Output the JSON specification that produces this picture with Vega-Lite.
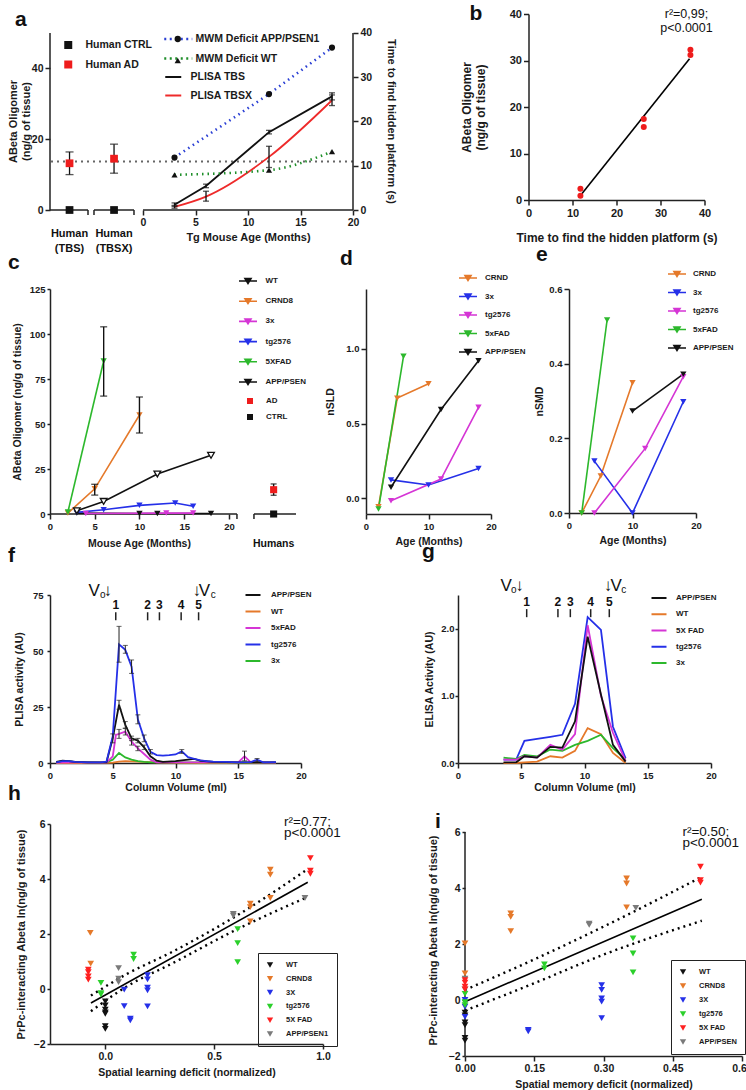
{
 "$schema": "https://vega.github.io/schema/vega-lite/v6.json",
 "background": "white",
 "padding": {"left": 7, "top": 2, "right": 0, "bottom": 0},
 "config": {
  "font": "Liberation Sans",
  "view": {"stroke": null},
  "axis": {"grid": false, "labelFont": "Liberation Sans", "labelFontWeight": "bold", "labelFontSize": 11, "labelColor": "#1a1a1a", "titleFont": "Liberation Sans", "titleFontWeight": "bold", "titleFontSize": 12, "titleColor": "#1a1a1a", "domainColor": "#222", "domainWidth": 1.5, "tickColor": "#222", "tickWidth": 1.5, "tickSize": 5, "labelFlush": false, "labelOverlap": false},
  "legend": {"labelFont": "Liberation Sans", "labelFontWeight": "bold", "labelColor": "#1a1a1a", "padding": 0, "titlePadding": 0},
  "title": {"font": "Liberation Sans", "fontSize": 21, "fontWeight": "bold", "anchor": "start", "frame": "group", "color": "#111"},
  "text": {"font": "Liberation Sans", "color": "#111"}
 },
 "resolve": {"scale": {"color": "independent", "fill": "independent", "stroke": "independent", "shape": "independent"}, "legend": {"color": "independent", "fill": "independent", "stroke": "independent", "shape": "independent"}},
 "spacing": -10,
 "vconcat": [
  {
   "spacing": 62.5,
   "resolve": {"scale": {"color": "independent", "fill": "independent", "stroke": "independent", "shape": "independent"}, "legend": {"color": "independent", "fill": "independent", "stroke": "independent", "shape": "independent"}},
   "hconcat": [
    {
     "width": 303, "height": 196,
     "title": {"text": "a", "dx": -35, "offset": -15.5},
     "resolve": {"scale": {"y": "independent"}},
     "layer": [
      {
       "layer": [
        {"data": {"values": [{"y": 13.7}]},
         "mark": {"type": "rule", "strokeDash": [2, 4], "strokeWidth": 2, "color": "#666"},
         "encoding": {"y": {"field": "y", "type": "quantitative", "scale": {"domain": [0, 55.37], "nice": false}, "axis": {"values": [0, 10, 20, 30, 40, 50], "domain": false, "title": ["ABeta Oligomer", "(ng/g of tissue)"], "titleY": 107, "titlePadding": 0, "labelFontSize": 10.5, "titleFontSize": 11, "titleLineHeight": 13}}}},
        {"data": {"values": [{"v": 0}]},
         "mark": {"type": "rule", "color": "#222", "strokeWidth": 1.5},
         "encoding": {"x": {"datum": -8.86, "type": "quantitative", "scale": {"domain": [-8.86, 20], "nice": false, "zero": false}}, "y": {"datum": 0, "type": "quantitative"}, "y2": {"datum": 50}}},
        {"data": {"name": "a_axis"},
         "mark": {"type": "rule", "color": "#222", "strokeWidth": 1.5},
         "encoding": {"x": {"field": "s", "type": "quantitative", "scale": {"domain": [-8.86, 20], "nice": false, "zero": false}, "axis": {"values": [0, 5, 10, 15, 20], "domain": false, "title": "Tg Mouse Age (Months)", "titleX": 198, "labelFontSize": 10.5, "titleFontSize": 11, "titlePadding": 4}}, "x2": {"field": "e"}, "y": {"datum": 0, "type": "quantitative"}}},
        {"data": {"name": "a_tk"},
         "mark": {"type": "rule", "color": "#222", "strokeWidth": 1.5},
         "encoding": {"x": {"field": "x", "type": "quantitative", "scale": {"domain": [-8.86, 20], "nice": false, "zero": false}}, "y": {"datum": 0, "type": "quantitative"}, "y2": {"datum": -1.4}}},
        {"data": {"name": "a_lab"},
         "mark": {"type": "text", "fontSize": 11, "fontWeight": "bold", "baseline": "top", "dy": 17.5, "lineBreak": "\n", "lineHeight": 15},
         "encoding": {"x": {"field": "x", "type": "quantitative", "scale": {"domain": [-8.86, 20], "nice": false, "zero": false}}, "y": {"datum": 0, "type": "quantitative"}, "text": {"field": "t"}}},
        {"data": {"name": "a_plisa"},
         "transform": [{"filter": "datum.s == 'PLISA TBS'"}],
         "mark": {"type": "line", "strokeWidth": 1.8},
         "encoding": {"x": {"field": "x", "type": "quantitative", "scale": {"domain": [-8.86, 20], "nice": false, "zero": false}}, "y": {"field": "y", "type": "quantitative", "scale": {"domain": [0, 55.37], "nice": false}},
          "color": {"field": "s", "type": "nominal", "scale": {"domain": ["PLISA TBS", "PLISA TBSX"], "range": ["#111111", "#ee2a2a"]}, "legend": {"title": null, "orient": "none", "legendX": 118, "legendY": 57.75, "symbolType": "M-4,0H4", "symbolSize": 16, "symbolStrokeWidth": 2, "labelOffset": 12, "labelFontSize": 10.5, "rowPadding": 7.5}}}},
        {"data": {"name": "a_plisa"},
         "transform": [{"filter": "datum.s == 'PLISA TBSX'"}],
         "mark": {"type": "line", "strokeWidth": 1.8, "interpolate": "monotone"},
         "encoding": {"x": {"field": "x", "type": "quantitative", "scale": {"domain": [-8.86, 20], "nice": false, "zero": false}}, "y": {"field": "y", "type": "quantitative", "scale": {"domain": [0, 55.37], "nice": false}},
          "color": {"field": "s", "type": "nominal", "legend": null}}},
        {"data": {"name": "a_plisa"},
         "encoding": {"x": {"field": "x", "type": "quantitative", "scale": {"domain": [-8.86, 20], "nice": false, "zero": false}}},
         "layer": [
          {"mark": {"type": "rule", "color": "#111", "strokeWidth": 1.3}, "encoding": {"y": {"field": "lo", "type": "quantitative"}, "y2": {"field": "hi"}}},
          {"mark": {"type": "tick", "orient": "horizontal", "color": "#111", "size": 6, "thickness": 1.3}, "encoding": {"y": {"field": "lo", "type": "quantitative"}}},
          {"mark": {"type": "tick", "orient": "horizontal", "color": "#111", "size": 6, "thickness": 1.3}, "encoding": {"y": {"field": "hi", "type": "quantitative"}}}
         ]},
        {"data": {"name": "a_human"},
         "transform": [{"filter": "isValid(datum.lo)"}],
         "encoding": {"x": {"field": "x", "type": "quantitative", "scale": {"domain": [-8.86, 20], "nice": false, "zero": false}}},
         "layer": [
          {"mark": {"type": "rule", "color": "#111", "strokeWidth": 1.3}, "encoding": {"y": {"field": "lo", "type": "quantitative"}, "y2": {"field": "hi"}}},
          {"mark": {"type": "tick", "orient": "horizontal", "color": "#111", "size": 8, "thickness": 1.3}, "encoding": {"y": {"field": "lo", "type": "quantitative"}}},
          {"mark": {"type": "tick", "orient": "horizontal", "color": "#111", "size": 8, "thickness": 1.3}, "encoding": {"y": {"field": "hi", "type": "quantitative"}}}
         ]},
        {"data": {"name": "a_human"},
         "mark": {"type": "point", "shape": "square", "filled": true, "size": 60, "opacity": 1},
         "encoding": {"x": {"field": "x", "type": "quantitative", "scale": {"domain": [-8.86, 20], "nice": false, "zero": false}}, "y": {"field": "y", "type": "quantitative"},
          "fill": {"field": "g", "type": "nominal", "scale": {"domain": ["Human CTRL", "Human AD"], "range": ["#111111", "#ee1c1c"]}, "legend": {"title": null, "orient": "none", "legendX": 13, "legendY": 25.75, "symbolType": "square", "symbolSize": 64, "labelOffset": 12, "labelFontSize": 10.5, "rowPadding": 8.5}}}}
       ]
      },
      {
       "layer": [
        {"data": {"name": "a_mwm"},
         "transform": [{"filter": "datum.m == 'MWM Deficit APP/PSEN1'"}],
         "mark": {"type": "line", "strokeDash": [1.5, 4], "strokeWidth": 2.6},
         "encoding": {"x": {"field": "x", "type": "quantitative", "scale": {"domain": [-8.86, 20], "nice": false, "zero": false}},
          "y": {"field": "t", "type": "quantitative", "scale": {"domain": [0, 44.29], "nice": false}, "axis": {"orient": "right", "values": [0, 10, 20, 30, 40], "domain": false, "title": "Time to find hidden platform (s)", "titleY": 107, "labelFontSize": 10.5, "titleFontSize": 11, "titlePadding": 14}},
          "stroke": {"field": "m", "type": "nominal", "scale": {"domain": ["MWM Deficit APP/PSEN1", "MWM Deficit WT"], "range": ["#2a3fd4", "#1f8f2a"]}, "legend": {"title": null, "orient": "none", "legendX": 123, "legendY": 19.75, "symbolType": "M-4,0H4", "symbolSize": 49, "symbolStrokeWidth": 2.5, "symbolDash": [2, 3.5], "labelOffset": 12, "labelFontSize": 10.5, "rowPadding": 8.5}}}},
        {"data": {"values": [{"v": 0}]},
         "mark": {"type": "rule", "color": "#222", "strokeWidth": 1.5},
         "encoding": {"x": {"datum": 20, "type": "quantitative", "scale": {"domain": [-8.86, 20], "nice": false, "zero": false}}, "y": {"datum": 0, "type": "quantitative"}, "y2": {"datum": 40}}},
        {"data": {"name": "a_mwm"},
         "transform": [{"filter": "datum.m == 'MWM Deficit WT'"}],
         "mark": {"type": "line", "strokeDash": [1.5, 4], "strokeWidth": 2.6, "interpolate": "monotone"},
         "encoding": {"x": {"field": "x", "type": "quantitative", "scale": {"domain": [-8.86, 20], "nice": false, "zero": false}},
          "y": {"field": "t", "type": "quantitative"},
          "stroke": {"field": "m", "type": "nominal", "legend": null}}},
        {"data": {"name": "a_mwm"},
         "mark": {"type": "point", "filled": true, "color": "#111", "size": 38, "opacity": 1},
         "encoding": {"x": {"field": "x", "type": "quantitative", "scale": {"domain": [-8.86, 20], "nice": false, "zero": false}},
          "y": {"field": "t", "type": "quantitative"},
          "shape": {"field": "m", "type": "nominal", "scale": {"range": ["circle", "triangle-up"]}, "legend": {"title": null, "orient": "none", "legendX": 122.5, "legendY": 19.75, "symbolSize": 40, "labelOpacity": 0, "labelFontSize": 10.5, "rowPadding": 8.5}}}}
       ]
      }
     ]
    },
    {
     "width": 176, "height": 186,
     "title": {"text": "b", "dx": -59, "offset": -15.5},
     "layer": [
      {"data": {"name": "b_fit"}, "mark": {"type": "line", "color": "#000", "strokeWidth": 1.6},
       "encoding": {"x": {"field": "x", "type": "quantitative", "scale": {"domain": [0, 40], "nice": false}, "axis": {"values": [0, 10, 20, 30, 40], "title": "Time to find the hidden platform (s)", "titlePadding": 14, "labelFontSize": 11, "titleFontSize": 12}},
        "y": {"field": "y", "type": "quantitative", "scale": {"domain": [0, 40], "nice": false}, "axis": {"values": [0, 10, 20, 30, 40], "title": ["ABeta Oligomer", "(ng/g of tissue)"], "titlePadding": 22, "labelFontSize": 11, "titleFontSize": 12, "titleLineHeight": 14}}}},
      {"data": {"name": "b_pts"}, "mark": {"type": "point", "filled": true, "color": "#ee1c1c", "size": 36, "opacity": 1},
       "encoding": {"x": {"field": "x", "type": "quantitative", "scale": {"domain": [0, 40], "nice": false}}, "y": {"field": "y", "type": "quantitative", "scale": {"domain": [0, 40], "nice": false}}}},
      {"data": {"name": "b_txt"}, "mark": {"type": "text", "fontSize": 12.5, "align": "center", "baseline": "middle"},
       "encoding": {"x": {"field": "x", "type": "quantitative", "scale": {"domain": [0, 40], "nice": false}}, "y": {"field": "y", "type": "quantitative", "scale": {"domain": [0, 40], "nice": false}}, "text": {"field": "t"}}}
     ]
    }
   ]
  },
  {
   "spacing": 19,
   "resolve": {"scale": {"color": "independent", "fill": "independent", "stroke": "independent", "shape": "independent"}, "legend": {"color": "independent", "fill": "independent", "stroke": "independent", "shape": "independent"}},
   "hconcat": [
    {
     "width": 246, "height": 225,
     "title": {"text": "c", "dx": -42, "offset": 4.5},
     "layer": [
      {"data": {"name": "c_axis"}, "mark": {"type": "rule", "color": "#222", "strokeWidth": 1.5},
       "encoding": {"x": {"field": "s", "type": "quantitative", "scale": {"domain": [0, 27.5], "nice": false, "zero": false}}, "x2": {"field": "e"}, "y": {"datum": 0, "type": "quantitative", "scale": {"domain": [0, 125], "nice": false}}}},
      {"data": {"name": "c_tk"}, "mark": {"type": "rule", "color": "#222", "strokeWidth": 1.5},
       "encoding": {"x": {"field": "x", "type": "quantitative", "scale": {"domain": [0, 27.5], "nice": false, "zero": false}}, "y": {"datum": 0, "type": "quantitative"}, "y2": {"datum": -2.8}}},
      {"data": {"name": "c_lab"}, "mark": {"type": "text", "fontSize": 10.5, "fontWeight": "bold", "baseline": "middle", "dy": 30},
       "encoding": {"x": {"field": "x", "type": "quantitative", "scale": {"domain": [0, 27.5], "nice": false, "zero": false}}, "y": {"datum": 0, "type": "quantitative"}, "text": {"field": "t"}}},
      {"data": {"name": "c_lines"}, "mark": {"type": "line", "strokeWidth": 1.6},
       "encoding": {"x": {"field": "x", "type": "quantitative", "scale": {"domain": [0, 27.5], "nice": false, "zero": false}, "axis": {"values": [0, 5, 10, 15, 20], "domain": false, "title": "Mouse Age (Months)", "titleX": 89, "titlePadding": 8, "labelFontSize": 9.5, "titleFontSize": 10.5}},
        "y": {"field": "y", "type": "quantitative", "scale": {"domain": [0, 125], "nice": false}, "axis": {"values": [0, 25, 50, 75, 100, 125], "title": "ABeta Oligomer (ng/g of tissue)", "tickSize": 3, "labelPadding": 2, "titlePadding": 7, "labelFontSize": 9.5, "titleFontSize": 10.5}},
        "color": {"field": "s", "type": "nominal", "scale": {"domain": ["WT", "CRND8", "3x", "tg2576", "5XFAD", "APP/PSEN"], "range": ["#111111", "#e5792a", "#d535d5", "#2530e8", "#2cb82c", "#111111"]},
         "legend": {"title": null, "orient": "none", "legendX": 194, "legendY": -12, "symbolType": "M-3,0H3M-1,-0.8H1L0,0.8Z", "symbolSize": 36, "symbolStrokeWidth": 1.6, "symbolFillColor": "transparent", "labelOffset": 13.5, "labelFontSize": 8, "rowPadding": 8.2}}}},
      {"data": {"name": "c_lines"}, "transform": [{"filter": "datum.s != 'APP/PSEN'"}], "mark": {"type": "point", "shape": "triangle-down", "filled": true, "size": 40, "opacity": 1},
       "encoding": {"x": {"field": "x", "type": "quantitative", "scale": {"domain": [0, 27.5], "nice": false, "zero": false}}, "y": {"field": "y", "type": "quantitative"}, "color": {"field": "s", "type": "nominal", "legend": null}}},
      {"data": {"name": "c_lines"}, "transform": [{"filter": "datum.s == 'APP/PSEN'"}], "mark": {"type": "point", "shape": "triangle-down", "filled": false, "fill": "white", "stroke": "#111", "strokeWidth": 1.3, "size": 45, "opacity": 1},
       "encoding": {"x": {"field": "x", "type": "quantitative", "scale": {"domain": [0, 27.5], "nice": false, "zero": false}}, "y": {"field": "y", "type": "quantitative"}}},
      {"data": {"name": "c_err"},
       "encoding": {"x": {"field": "x", "type": "quantitative", "scale": {"domain": [0, 27.5], "nice": false, "zero": false}}},
       "layer": [
        {"mark": {"type": "rule", "color": "#111", "strokeWidth": 1.4}, "encoding": {"y": {"field": "lo", "type": "quantitative"}, "y2": {"field": "hi"}}},
        {"mark": {"type": "tick", "orient": "horizontal", "color": "#111", "size": 7, "thickness": 1.4}, "encoding": {"y": {"field": "lo", "type": "quantitative"}}},
        {"mark": {"type": "tick", "orient": "horizontal", "color": "#111", "size": 7, "thickness": 1.4}, "encoding": {"y": {"field": "hi", "type": "quantitative"}}}
       ]},
      {"data": {"name": "c_hum"}, "transform": [{"filter": "isValid(datum.lo)"}],
       "encoding": {"x": {"field": "x", "type": "quantitative", "scale": {"domain": [0, 27.5], "nice": false, "zero": false}}},
       "layer": [
        {"mark": {"type": "rule", "color": "#111", "strokeWidth": 1.4}, "encoding": {"y": {"field": "lo", "type": "quantitative"}, "y2": {"field": "hi"}}},
        {"mark": {"type": "tick", "orient": "horizontal", "color": "#111", "size": 6, "thickness": 1.4}, "encoding": {"y": {"field": "lo", "type": "quantitative"}}},
        {"mark": {"type": "tick", "orient": "horizontal", "color": "#111", "size": 6, "thickness": 1.4}, "encoding": {"y": {"field": "hi", "type": "quantitative"}}}
       ]},
      {"data": {"name": "c_hum"}, "mark": {"type": "point", "shape": "square", "filled": true, "size": 50, "opacity": 1},
       "encoding": {"x": {"field": "x", "type": "quantitative", "scale": {"domain": [0, 27.5], "nice": false, "zero": false}}, "y": {"field": "y", "type": "quantitative"},
        "fill": {"field": "g", "type": "nominal", "scale": {"domain": ["AD", "CTRL"], "range": ["#ee1c1c", "#111111"]}, "legend": {"title": null, "orient": "none", "legendX": 196, "legendY": 108, "symbolType": "square", "symbolSize": 36, "labelOffset": 12, "labelFontSize": 8, "rowPadding": 8}}}}
     ]
    },
    {
     "spacing": 8,
     "resolve": {"scale": {"color": "independent", "fill": "independent", "stroke": "independent", "shape": "independent"}, "legend": {"color": "independent", "fill": "independent", "stroke": "independent", "shape": "independent"}},
     "hconcat": [
      {
       "width": 125, "height": 225,
       "title": {"text": "d", "dx": -26, "offset": 5},
       "layer": [
        {"data": {"name": "d_lines"}, "mark": {"type": "line", "strokeWidth": 1.6},
         "encoding": {"x": {"field": "x", "type": "quantitative", "scale": {"domain": [0, 20], "nice": false}, "axis": {"values": [0, 5, 10, 15, 20], "title": "Age (Months)", "titlePadding": 6, "labelFontSize": 9.5, "titleFontSize": 10.5}},
          "y": {"field": "y", "type": "quantitative", "scale": {"domain": [-0.105, 1.4], "nice": false, "zero": false}, "axis": {"values": [0, 0.5, 1.0], "format": ".1f", "title": "nSLD", "titlePadding": 10.5, "labelFontSize": 9.5, "titleFontSize": 10.5}},
          "color": {"field": "s", "type": "nominal", "scale": {"domain": ["CRND", "3x", "tg2576", "5xFAD", "APP/PSEN"], "range": ["#e5792a", "#2530e8", "#d535d5", "#2cb82c", "#111111"]},
           "legend": {"title": null, "orient": "none", "legendX": 98, "legendY": -15, "symbolType": "M-3,0H3M-1,-0.8H1L0,0.8Z", "symbolSize": 36, "symbolStrokeWidth": 1.6, "symbolFillColor": "transparent", "labelOffset": 13, "labelFontSize": 8, "rowPadding": 6.5}}}},
        {"data": {"name": "d_lines"}, "mark": {"type": "point", "shape": "triangle-down", "filled": true, "size": 40, "opacity": 1},
         "encoding": {"x": {"field": "x", "type": "quantitative", "scale": {"domain": [0, 20], "nice": false}}, "y": {"field": "y", "type": "quantitative"}, "color": {"field": "s", "type": "nominal", "legend": null}}}
       ]
      },
      {
       "width": 127, "height": 224,
       "title": {"text": "e", "dx": -33, "offset": 5},
       "layer": [
        {"data": {"name": "e_lines"}, "mark": {"type": "line", "strokeWidth": 1.6},
         "encoding": {"x": {"field": "x", "type": "quantitative", "scale": {"domain": [0, 20], "nice": false}, "axis": {"values": [0, 5, 10, 15, 20], "title": "Age (Months)", "titlePadding": 6, "labelFontSize": 9.5, "titleFontSize": 10.5}},
          "y": {"field": "y", "type": "quantitative", "scale": {"domain": [0, 0.6], "nice": false}, "axis": {"values": [0, 0.2, 0.4, 0.6], "format": ".1f", "title": "nSMD", "titlePadding": 4.5, "labelFontSize": 9.5, "titleFontSize": 10.5}},
          "color": {"field": "s", "type": "nominal", "scale": {"domain": ["CRND", "3x", "tg2576", "5xFAD", "APP/PSEN"], "range": ["#e5792a", "#2530e8", "#d535d5", "#2cb82c", "#111111"]},
           "legend": {"title": null, "orient": "none", "legendX": 104, "legendY": -19, "symbolType": "M-3,0H3M-1,-0.8H1L0,0.8Z", "symbolSize": 36, "symbolStrokeWidth": 1.6, "symbolFillColor": "transparent", "labelOffset": 12, "labelFontSize": 8, "rowPadding": 6.5}}}},
        {"data": {"name": "e_lines"}, "mark": {"type": "point", "shape": "triangle-down", "filled": true, "size": 40, "opacity": 1},
         "encoding": {"x": {"field": "x", "type": "quantitative", "scale": {"domain": [0, 20], "nice": false}}, "y": {"field": "y", "type": "quantitative"}, "color": {"field": "s", "type": "nominal", "legend": null}}}
       ]
      }
     ]
    }
   ]
  },
  {
   "spacing": 110,
   "resolve": {"scale": {"color": "independent", "fill": "independent", "stroke": "independent", "shape": "independent"}, "legend": {"color": "independent", "fill": "independent", "stroke": "independent", "shape": "independent"}},
   "hconcat": [
    {
     "width": 251, "height": 168,
     "title": {"text": "f", "dx": -42, "offset": 16.5},
     "layer": [
      {"data": {"name": "f_lines"}, "mark": {"type": "line", "strokeWidth": 1.8},
       "encoding": {"x": {"field": "x", "type": "quantitative", "scale": {"domain": [0, 20], "nice": false}, "axis": {"values": [0, 5, 10, 15, 20], "title": "Column Volume (ml)", "labelFontSize": 9.5, "titleFontSize": 10.5, "titlePadding": 3}},
        "y": {"field": "y", "type": "quantitative", "scale": {"domain": [0, 75], "nice": false}, "axis": {"values": [0, 25, 50, 75], "title": "PLISA activity (AU)", "tickSize": 3, "labelPadding": 4, "labelFontSize": 9.5, "titleFontSize": 10.5, "titlePadding": 8}},
        "color": {"field": "s", "type": "nominal", "scale": {"domain": ["APP/PSEN", "WT", "5xFAD", "tg2576", "3x"], "range": ["#111111", "#e5792a", "#d535d5", "#2530e8", "#2cb82c"]},
         "legend": {"title": null, "orient": "none", "legendX": 199, "legendY": -4, "symbolType": "M-3,0H3", "symbolSize": 25, "symbolStrokeWidth": 2, "labelOffset": 14, "labelFontSize": 8, "rowPadding": 8.5}}}},
      {"data": {"name": "f_err"},
       "encoding": {"x": {"field": "x", "type": "quantitative", "scale": {"domain": [0, 20], "nice": false}}},
       "layer": [
        {"mark": {"type": "rule", "color": "#222", "strokeWidth": 1}, "encoding": {"y": {"field": "lo", "type": "quantitative"}, "y2": {"field": "hi"}}},
        {"mark": {"type": "tick", "orient": "horizontal", "color": "#222", "size": 5, "thickness": 1}, "encoding": {"y": {"field": "lo", "type": "quantitative"}}},
        {"mark": {"type": "tick", "orient": "horizontal", "color": "#222", "size": 5, "thickness": 1}, "encoding": {"y": {"field": "hi", "type": "quantitative"}}}
       ]},
      {"data": {"name": "f_big"}, "mark": {"type": "text", "fontSize": 17, "baseline": "middle"},
       "encoding": {"x": {"field": "x", "type": "quantitative", "scale": {"domain": [0, 20], "nice": false}}, "y": {"datum": 76.6, "type": "quantitative"}, "text": {"field": "t"}}},
      {"data": {"name": "f_small"}, "mark": {"type": "text", "fontSize": 10, "baseline": "middle"},
       "encoding": {"x": {"field": "x", "type": "quantitative", "scale": {"domain": [0, 20], "nice": false}}, "y": {"datum": 75.0, "type": "quantitative"}, "text": {"field": "t"}}},
      {"data": {"name": "f_frac"}, "mark": {"type": "text", "fontSize": 12, "fontWeight": "bold", "baseline": "middle"},
       "encoding": {"x": {"field": "x", "type": "quantitative", "scale": {"domain": [0, 20], "nice": false}}, "y": {"datum": 70.6, "type": "quantitative"}, "text": {"field": "n"}}},
      {"data": {"name": "f_frac"}, "mark": {"type": "rule", "color": "#222", "strokeWidth": 1.5},
       "encoding": {"x": {"field": "x", "type": "quantitative", "scale": {"domain": [0, 20], "nice": false}}, "y": {"datum": 63.7, "type": "quantitative"}, "y2": {"datum": 67.3}}}
     ]
    },
    {
     "width": 253, "height": 168,
     "title": {"text": "g", "dx": -36, "offset": 15.5},
     "layer": [
      {"data": {"name": "g_lines"}, "mark": {"type": "line", "strokeWidth": 1.8},
       "encoding": {"x": {"field": "x", "type": "quantitative", "scale": {"domain": [0, 20], "nice": false}, "axis": {"values": [0, 5, 10, 15, 20], "title": "Column Volume (ml)", "labelFontSize": 9.5, "titleFontSize": 10.5, "titlePadding": 3}},
        "y": {"field": "y", "type": "quantitative", "scale": {"domain": [0, 2.5], "nice": false}, "axis": {"values": [0, 0.5, 1, 1.5, 2, 2.5], "format": ".1f", "title": "ELISA Activity (AU)", "tickSize": 3, "labelPadding": 1, "labelFontSize": 9.5, "titleFontSize": 10.5, "titlePadding": 6.5}},
        "color": {"field": "s", "type": "nominal", "scale": {"domain": ["APP/PSEN", "WT", "5X FAD", "tg2576", "3x"], "range": ["#111111", "#e5792a", "#d535d5", "#2530e8", "#2cb82c"]},
         "legend": {"title": null, "orient": "none", "legendX": 197, "legendY": -1, "symbolType": "M-3,0H3", "symbolSize": 25, "symbolStrokeWidth": 2, "labelOffset": 13, "labelFontSize": 8, "rowPadding": 8.25}}}},
      {"data": {"name": "g_big"}, "mark": {"type": "text", "fontSize": 17, "baseline": "middle"},
       "encoding": {"x": {"field": "x", "type": "quantitative", "scale": {"domain": [0, 20], "nice": false}}, "y": {"datum": 2.63, "type": "quantitative"}, "text": {"field": "t"}}},
      {"data": {"name": "g_small"}, "mark": {"type": "text", "fontSize": 10, "baseline": "middle"},
       "encoding": {"x": {"field": "x", "type": "quantitative", "scale": {"domain": [0, 20], "nice": false}}, "y": {"datum": 2.57, "type": "quantitative"}, "text": {"field": "t"}}},
      {"data": {"name": "g_frac"}, "mark": {"type": "text", "fontSize": 12, "fontWeight": "bold", "baseline": "middle"},
       "encoding": {"x": {"field": "x", "type": "quantitative", "scale": {"domain": [0, 20], "nice": false}}, "y": {"datum": 2.39, "type": "quantitative"}, "text": {"field": "n"}}},
      {"data": {"name": "g_frac"}, "mark": {"type": "rule", "color": "#222", "strokeWidth": 1.5},
       "encoding": {"x": {"field": "x", "type": "quantitative", "scale": {"domain": [0, 20], "nice": false}}, "y": {"datum": 2.17, "type": "quantitative"}, "y2": {"datum": 2.29}}}
     ]
    }
   ]
  },
  {
   "spacing": 86,
   "resolve": {"scale": {"color": "independent", "fill": "independent", "stroke": "independent", "shape": "independent"}, "legend": {"color": "independent", "fill": "independent", "stroke": "independent", "shape": "independent"}},
   "hconcat": [
    {
     "width": 273, "height": 220,
     "title": {"text": "h", "dx": -42, "offset": 10.5},
     "layer": [
      {"data": {"name": "h_lines"}, "transform": [{"filter": "datum.k == 'fit'"}], "mark": {"type": "line", "color": "#000", "strokeWidth": 1.6},
       "encoding": {"x": {"field": "x", "type": "quantitative", "scale": {"domain": [-0.254, 1.0], "nice": false, "zero": false}, "axis": {"values": [0, 0.5, 1.0], "format": ".1f", "title": "Spatial learning deficit (normalized)", "titlePadding": 6, "labelFontSize": 10.5, "titleFontSize": 10.5}},
        "y": {"field": "y", "type": "quantitative", "scale": {"domain": [-2, 6], "nice": false, "zero": false}, "axis": {"values": [-2, 0, 2, 4, 6], "title": "PrPc-interacting Abeta ln(ng/g of tissue)", "tickSize": 3, "labelPadding": 2, "titlePadding": 7, "labelFontSize": 10.5, "titleFontSize": 11}}}},
      {"data": {"name": "h_lines"}, "transform": [{"filter": "datum.k != 'fit'"}], "mark": {"type": "line", "color": "#000", "strokeWidth": 2.4, "strokeDash": [2, 4], "interpolate": "monotone"},
       "encoding": {"x": {"field": "x", "type": "quantitative", "scale": {"domain": [-0.254, 1.0], "nice": false, "zero": false}}, "y": {"field": "y", "type": "quantitative"}, "detail": {"field": "k"}}},
      {"data": {"name": "h_pts"}, "mark": {"type": "point", "shape": "triangle-down", "filled": true, "size": 45, "opacity": 1},
       "encoding": {"x": {"field": "x", "type": "quantitative", "scale": {"domain": [-0.254, 1.0], "nice": false, "zero": false}}, "y": {"field": "y", "type": "quantitative"},
        "color": {"field": "s", "type": "nominal", "scale": {"domain": ["WT", "CRND8", "3X", "tg2576", "5X FAD", "APP/PSEN1"], "range": ["#111111", "#e5792a", "#2530e8", "#2bd02b", "#ff2020", "#7a7a7a"]},
         "legend": {"title": null, "orient": "none", "legendX": 208, "legendY": 129, "symbolType": "triangle-down", "symbolSize": 40, "labelOffset": 12, "labelFontSize": 7.5, "rowPadding": 5.8, "strokeColor": "#222", "padding": 8}}}},
      {"data": {"name": "h_txt"}, "mark": {"type": "text", "fontSize": 13.5, "align": "left", "baseline": "middle"},
       "encoding": {"x": {"field": "x", "type": "quantitative", "scale": {"domain": [-0.254, 1.0], "nice": false, "zero": false}}, "y": {"field": "y", "type": "quantitative"}, "text": {"field": "t"}}}
     ]
    },
    {
     "width": 277, "height": 232,
     "title": {"text": "i", "dx": -30, "dy": 18, "offset": 10.5},
     "layer": [
      {"data": {"name": "i_lines"}, "transform": [{"filter": "datum.k == 'fit'"}], "mark": {"type": "line", "color": "#000", "strokeWidth": 1.6},
       "encoding": {"x": {"field": "x", "type": "quantitative", "scale": {"domain": [0, 0.6], "nice": false, "zero": false}, "axis": {"values": [0, 0.15, 0.3, 0.45, 0.6], "format": ".2f", "title": "Spatial memory deficit (normalized)", "titlePadding": 6, "labelFontSize": 10.5, "titleFontSize": 10.5}},
        "y": {"field": "y", "type": "quantitative", "scale": {"domain": [-2, 6.286], "nice": false, "zero": false}, "axis": {"values": [-2, 0, 2, 4, 6], "domain": false, "title": "PrPc-interacting Abeta ln(ng/g of tissue)", "tickSize": 3, "labelPadding": 2, "titlePadding": 10, "labelFontSize": 10.5, "titleFontSize": 11}}}},
      {"data": {"values": [{"v": 0}]},
       "mark": {"type": "rule", "color": "#222", "strokeWidth": 1.5},
       "encoding": {"x": {"datum": 0, "type": "quantitative", "scale": {"domain": [0, 0.6], "nice": false, "zero": false}}, "y": {"datum": -2, "type": "quantitative"}, "y2": {"datum": 6}}},
      {"data": {"name": "i_lines"}, "transform": [{"filter": "datum.k != 'fit'"}], "mark": {"type": "line", "color": "#000", "strokeWidth": 2.4, "strokeDash": [2, 4], "interpolate": "monotone"},
       "encoding": {"x": {"field": "x", "type": "quantitative", "scale": {"domain": [0, 0.6], "nice": false, "zero": false}}, "y": {"field": "y", "type": "quantitative"}, "detail": {"field": "k"}}},
      {"data": {"name": "i_pts"}, "mark": {"type": "point", "shape": "triangle-down", "filled": true, "size": 45, "opacity": 1},
       "encoding": {"x": {"field": "x", "type": "quantitative", "scale": {"domain": [0, 0.6], "nice": false, "zero": false}}, "y": {"field": "y", "type": "quantitative"},
        "color": {"field": "s", "type": "nominal", "scale": {"domain": ["WT", "CRND8", "3X", "tg2576", "5X FAD", "APP/PSEN"], "range": ["#111111", "#e5792a", "#2530e8", "#2bd02b", "#ff2020", "#7a7a7a"]},
         "legend": {"title": null, "orient": "none", "legendX": 206, "legendY": 136, "symbolType": "triangle-down", "symbolSize": 40, "labelOffset": 12, "labelFontSize": 7.5, "rowPadding": 6, "strokeColor": "#222", "padding": 8}}}},
      {"data": {"name": "i_txt"}, "mark": {"type": "text", "fontSize": 13.5, "align": "left", "baseline": "middle"},
       "encoding": {"x": {"field": "x", "type": "quantitative", "scale": {"domain": [0, 0.6], "nice": false, "zero": false}}, "y": {"field": "y", "type": "quantitative"}, "text": {"field": "t"}}}
     ]
    }
   ]
  }
 ],
 "datasets": {
  "a_axis": [{"s": -8.86, "e": -5.24}, {"s": -4.67, "e": -0.86}, {"s": 0, "e": 20}],
  "a_tk": [{"x": -5.24}, {"x": -4.67}, {"x": -0.86}],
  "a_lab": [{"x": -7.0, "t": "Human\n(TBS)"}, {"x": -2.76, "t": "Human\n(TBSX)"}],
  "a_plisa": [
   {"s": "PLISA TBS", "x": 3, "y": 1.5, "lo": 1.0, "hi": 2.0},
   {"s": "PLISA TBS", "x": 6, "y": 6.8, "lo": 6.3, "hi": 7.3},
   {"s": "PLISA TBS", "x": 12, "y": 22.0, "lo": 21.5, "hi": 22.5},
   {"s": "PLISA TBS", "x": 18, "y": 32.1, "lo": 31.1, "hi": 33.1},
   {"s": "PLISA TBSX", "x": 3, "y": 0.9, "lo": 0.5, "hi": 1.3},
   {"s": "PLISA TBSX", "x": 6, "y": 3.8, "lo": 2.5, "hi": 5.3},
   {"s": "PLISA TBSX", "x": 12, "y": 15.0, "lo": 12.0, "hi": 18.0},
   {"s": "PLISA TBSX", "x": 18, "y": 31.0, "lo": 29.5, "hi": 32.5}
  ],
  "a_human": [
   {"g": "Human CTRL", "x": -7.0, "y": 0},
   {"g": "Human CTRL", "x": -2.76, "y": 0},
   {"g": "Human AD", "x": -7.0, "y": 13.2, "lo": 10.0, "hi": 16.4},
   {"g": "Human AD", "x": -2.76, "y": 14.5, "lo": 10.4, "hi": 18.6}
  ],
  "a_mwm": [
   {"m": "MWM Deficit APP/PSEN1", "x": 3, "t": 11.85},
   {"m": "MWM Deficit APP/PSEN1", "x": 12, "t": 26.2},
   {"m": "MWM Deficit APP/PSEN1", "x": 18, "t": 36.7},
   {"m": "MWM Deficit WT", "x": 3, "t": 7.95},
   {"m": "MWM Deficit WT", "x": 12, "t": 9.0},
   {"m": "MWM Deficit WT", "x": 18, "t": 13.2}
  ],
  "b_pts": [{"x": 11.8, "y": 2.4}, {"x": 11.8, "y": 0.9}, {"x": 26.2, "y": 17.4}, {"x": 26.2, "y": 15.7}, {"x": 36.8, "y": 32.3}, {"x": 36.8, "y": 31.2}],
  "b_fit": [{"x": 11.9, "y": 1.1}, {"x": 36.6, "y": 30.4}],
  "b_txt": [{"x": 35.9, "y": 40.0, "t": "r²=0,99;"}, {"x": 35.9, "y": 37.0, "t": "p<0.0001"}],
  "c_axis": [{"s": 0, "e": 20.9}, {"s": 22.8, "e": 27.5}],
  "c_tk": [{"x": 20.9}, {"x": 22.8}],
  "c_lab": [{"x": 25, "t": "Humans"}],
  "c_lines": [
   {"s": "WT", "x": 3, "y": 0.5}, {"s": "WT", "x": 10, "y": 0.3}, {"s": "WT", "x": 12, "y": 0.3}, {"s": "WT", "x": 18, "y": 0.3},
   {"s": "CRND8", "x": 2, "y": 0.5}, {"s": "CRND8", "x": 5, "y": 14}, {"s": "CRND8", "x": 10, "y": 55},
   {"s": "3x", "x": 4, "y": 0.3}, {"s": "3x", "x": 13, "y": 0.5}, {"s": "3x", "x": 16, "y": 0.5},
   {"s": "tg2576", "x": 3, "y": 0.9}, {"s": "tg2576", "x": 6, "y": 2.4}, {"s": "tg2576", "x": 10, "y": 4.8}, {"s": "tg2576", "x": 14, "y": 6.1}, {"s": "tg2576", "x": 16, "y": 4.3},
   {"s": "5XFAD", "x": 2, "y": 1.1}, {"s": "5XFAD", "x": 6, "y": 85},
   {"s": "APP/PSEN", "x": 3, "y": 1.8}, {"s": "APP/PSEN", "x": 6, "y": 7}, {"s": "APP/PSEN", "x": 12, "y": 22.2}, {"s": "APP/PSEN", "x": 18, "y": 32.6}
  ],
  "c_err": [{"x": 5, "lo": 10.5, "hi": 16.5}, {"x": 10, "lo": 45, "hi": 65}, {"x": 6, "lo": 65.5, "hi": 104}],
  "c_hum": [{"g": "AD", "x": 25, "y": 13.5, "lo": 10.4, "hi": 16.7}, {"g": "CTRL", "x": 25, "y": 0}],
  "d_lines": [
   {"s": "CRND", "x": 2, "y": -0.056}, {"s": "CRND", "x": 5, "y": 0.67}, {"s": "CRND", "x": 10, "y": 0.766},
   {"s": "3x", "x": 4, "y": 0.123}, {"s": "3x", "x": 10, "y": 0.089}, {"s": "3x", "x": 18, "y": 0.199},
   {"s": "tg2576", "x": 4, "y": -0.016}, {"s": "tg2576", "x": 12, "y": 0.129}, {"s": "tg2576", "x": 18, "y": 0.609},
   {"s": "5xFAD", "x": 2, "y": -0.071}, {"s": "5xFAD", "x": 6, "y": 0.95},
   {"s": "APP/PSEN", "x": 4, "y": 0.074}, {"s": "APP/PSEN", "x": 12, "y": 0.594}, {"s": "APP/PSEN", "x": 18, "y": 0.92}
  ],
  "e_lines": [
   {"s": "CRND", "x": 2, "y": 0}, {"s": "CRND", "x": 5, "y": 0.099}, {"s": "CRND", "x": 10, "y": 0.349},
   {"s": "3x", "x": 4, "y": 0.139}, {"s": "3x", "x": 10, "y": 0}, {"s": "3x", "x": 18, "y": 0.298},
   {"s": "tg2576", "x": 4, "y": 0}, {"s": "tg2576", "x": 12, "y": 0.173}, {"s": "tg2576", "x": 18, "y": 0.365},
   {"s": "5xFAD", "x": 2, "y": 0}, {"s": "5xFAD", "x": 6, "y": 0.517},
   {"s": "APP/PSEN", "x": 10, "y": 0.273}, {"s": "APP/PSEN", "x": 18, "y": 0.372}
  ],
  "f_lines": [
   {"s": "WT", "x": 0.5, "y": 0}, {"s": "WT", "x": 4, "y": 0}, {"s": "WT", "x": 5, "y": 0.2}, {"s": "WT", "x": 5.5, "y": 0.6}, {"s": "WT", "x": 6, "y": 0.8}, {"s": "WT", "x": 7, "y": 0.6}, {"s": "WT", "x": 8, "y": 0.4}, {"s": "WT", "x": 9, "y": 0.2}, {"s": "WT", "x": 10, "y": 0.1}, {"s": "WT", "x": 12, "y": 0}, {"s": "WT", "x": 18, "y": 0},
   {"s": "3x", "x": 0.5, "y": 0.3}, {"s": "3x", "x": 1, "y": 0.8}, {"s": "3x", "x": 1.5, "y": 0.8}, {"s": "3x", "x": 2, "y": 0.4}, {"s": "3x", "x": 4, "y": 0.2}, {"s": "3x", "x": 4.5, "y": 0.3}, {"s": "3x", "x": 5, "y": 1.5}, {"s": "3x", "x": 5.5, "y": 4.5}, {"s": "3x", "x": 6, "y": 2.5}, {"s": "3x", "x": 6.5, "y": 1.5}, {"s": "3x", "x": 7, "y": 0.8}, {"s": "3x", "x": 7.5, "y": 0.5}, {"s": "3x", "x": 8, "y": 0.3}, {"s": "3x", "x": 10, "y": 0.3}, {"s": "3x", "x": 12, "y": 0.3}, {"s": "3x", "x": 14, "y": 0.2}, {"s": "3x", "x": 18, "y": 0.2},
   {"s": "5xFAD", "x": 0.5, "y": 0.2}, {"s": "5xFAD", "x": 2, "y": 0.3}, {"s": "5xFAD", "x": 4, "y": 0.2}, {"s": "5xFAD", "x": 4.5, "y": 0.2}, {"s": "5xFAD", "x": 5, "y": 3}, {"s": "5xFAD", "x": 5.25, "y": 12.5}, {"s": "5xFAD", "x": 5.5, "y": 13}, {"s": "5xFAD", "x": 6, "y": 14}, {"s": "5xFAD", "x": 6.5, "y": 9.5}, {"s": "5xFAD", "x": 7, "y": 6.5}, {"s": "5xFAD", "x": 7.5, "y": 4}, {"s": "5xFAD", "x": 8, "y": 1.5}, {"s": "5xFAD", "x": 8.5, "y": 0.3}, {"s": "5xFAD", "x": 10, "y": 0.3}, {"s": "5xFAD", "x": 12, "y": 0.3}, {"s": "5xFAD", "x": 14, "y": 0.3}, {"s": "5xFAD", "x": 15, "y": 0.3}, {"s": "5xFAD", "x": 15.5, "y": 3}, {"s": "5xFAD", "x": 16, "y": 0.3}, {"s": "5xFAD", "x": 18, "y": 0.2},
   {"s": "APP/PSEN", "x": 0.5, "y": 0.5}, {"s": "APP/PSEN", "x": 1, "y": 1}, {"s": "APP/PSEN", "x": 1.5, "y": 0.8}, {"s": "APP/PSEN", "x": 2, "y": 0.5}, {"s": "APP/PSEN", "x": 3, "y": 0.3}, {"s": "APP/PSEN", "x": 4, "y": 0.3}, {"s": "APP/PSEN", "x": 4.5, "y": 0.3}, {"s": "APP/PSEN", "x": 5, "y": 11}, {"s": "APP/PSEN", "x": 5.5, "y": 26}, {"s": "APP/PSEN", "x": 6, "y": 17}, {"s": "APP/PSEN", "x": 6.5, "y": 11}, {"s": "APP/PSEN", "x": 7, "y": 10}, {"s": "APP/PSEN", "x": 7.5, "y": 7}, {"s": "APP/PSEN", "x": 8, "y": 3}, {"s": "APP/PSEN", "x": 8.5, "y": 1}, {"s": "APP/PSEN", "x": 9, "y": 0.5}, {"s": "APP/PSEN", "x": 10, "y": 0.8}, {"s": "APP/PSEN", "x": 11, "y": 1.5}, {"s": "APP/PSEN", "x": 11.5, "y": 1.8}, {"s": "APP/PSEN", "x": 12, "y": 1}, {"s": "APP/PSEN", "x": 13, "y": 0.5}, {"s": "APP/PSEN", "x": 14, "y": 0.4}, {"s": "APP/PSEN", "x": 15, "y": 0.3}, {"s": "APP/PSEN", "x": 16, "y": 0.3}, {"s": "APP/PSEN", "x": 17, "y": 0.3}, {"s": "APP/PSEN", "x": 18, "y": 0.3},
   {"s": "tg2576", "x": 0.5, "y": 0.3}, {"s": "tg2576", "x": 1, "y": 0.8}, {"s": "tg2576", "x": 1.5, "y": 0.8}, {"s": "tg2576", "x": 2, "y": 0.5}, {"s": "tg2576", "x": 3, "y": 0.3}, {"s": "tg2576", "x": 4, "y": 0.3}, {"s": "tg2576", "x": 4.5, "y": 0.6}, {"s": "tg2576", "x": 5, "y": 12}, {"s": "tg2576", "x": 5.5, "y": 53}, {"s": "tg2576", "x": 6, "y": 50.5}, {"s": "tg2576", "x": 6.5, "y": 43}, {"s": "tg2576", "x": 7, "y": 19.5}, {"s": "tg2576", "x": 7.5, "y": 11}, {"s": "tg2576", "x": 8, "y": 5}, {"s": "tg2576", "x": 8.5, "y": 3.5}, {"s": "tg2576", "x": 9, "y": 3.3}, {"s": "tg2576", "x": 9.5, "y": 3.5}, {"s": "tg2576", "x": 10, "y": 3.8}, {"s": "tg2576", "x": 10.5, "y": 5.2}, {"s": "tg2576", "x": 11, "y": 2.6}, {"s": "tg2576", "x": 11.5, "y": 1.8}, {"s": "tg2576", "x": 12, "y": 1.2}, {"s": "tg2576", "x": 12.5, "y": 0.8}, {"s": "tg2576", "x": 13, "y": 0.6}, {"s": "tg2576", "x": 14, "y": 0.5}, {"s": "tg2576", "x": 15, "y": 0.3}, {"s": "tg2576", "x": 16, "y": 0.4}, {"s": "tg2576", "x": 16.5, "y": 1.5}, {"s": "tg2576", "x": 17, "y": 0.3}, {"s": "tg2576", "x": 18, "y": 0.4}
  ],
  "f_err": [
   {"x": 5.5, "lo": 45, "hi": 61}, {"x": 6, "lo": 49, "hi": 52.5}, {"x": 6.5, "lo": 40, "hi": 46}, {"x": 7, "lo": 17.5, "hi": 21.5}, {"x": 7.5, "lo": 9.5, "hi": 12.5}, {"x": 8, "lo": 4, "hi": 6}, {"x": 10.5, "lo": 4.3, "hi": 6}, {"x": 16.5, "lo": 0.5, "hi": 2},
   {"x": 5, "lo": 9, "hi": 13}, {"x": 5.5, "lo": 24, "hi": 28}, {"x": 6, "lo": 15.5, "hi": 18.5}, {"x": 6.5, "lo": 10, "hi": 12}, {"x": 7, "lo": 9, "hi": 11}, {"x": 7.5, "lo": 6, "hi": 8},
   {"x": 5.5, "lo": 11, "hi": 15}, {"x": 6, "lo": 12.5, "hi": 15.5}, {"x": 6.5, "lo": 8, "hi": 11}, {"x": 7, "lo": 5.5, "hi": 7.5}, {"x": 15.5, "lo": 1, "hi": 5.3}
  ],
  "f_big": [{"x": 3.51, "t": "V"}, {"x": 4.6, "t": "↓"}, {"x": 11.7, "t": "↓"}, {"x": 12.3, "t": "V"}],
  "f_small": [{"x": 4.2, "t": "o"}, {"x": 13.0, "t": "c"}],
  "f_frac": [{"x": 5.24, "n": "1"}, {"x": 7.78, "n": "2"}, {"x": 8.72, "n": "3"}, {"x": 10.45, "n": "4"}, {"x": 11.84, "n": "5"}],
  "g_lines": [
   {"s": "tg2576", "x": 3.6, "y": 0.05}, {"s": "tg2576", "x": 4.6, "y": 0.05}, {"s": "tg2576", "x": 5.25, "y": 0.33}, {"s": "tg2576", "x": 6.25, "y": 0.36}, {"s": "tg2576", "x": 7.3, "y": 0.39}, {"s": "tg2576", "x": 8.25, "y": 0.42}, {"s": "tg2576", "x": 9.25, "y": 0.88}, {"s": "tg2576", "x": 10.25, "y": 2.17}, {"s": "tg2576", "x": 11.3, "y": 1.98}, {"s": "tg2576", "x": 12.25, "y": 0.54}, {"s": "tg2576", "x": 13.25, "y": 0.07},
   {"s": "WT", "x": 3.6, "y": 0.0}, {"s": "WT", "x": 4.6, "y": 0.0}, {"s": "WT", "x": 5.25, "y": 0.01}, {"s": "WT", "x": 6.25, "y": 0.02}, {"s": "WT", "x": 7.3, "y": 0.1}, {"s": "WT", "x": 8.25, "y": 0.08}, {"s": "WT", "x": 9.25, "y": 0.18}, {"s": "WT", "x": 10.25, "y": 0.52}, {"s": "WT", "x": 11.3, "y": 0.43}, {"s": "WT", "x": 12.25, "y": 0.15}, {"s": "WT", "x": 13.25, "y": 0.0},
   {"s": "3x", "x": 3.6, "y": 0.08}, {"s": "3x", "x": 4.6, "y": 0.06}, {"s": "3x", "x": 5.25, "y": 0.12}, {"s": "3x", "x": 6.25, "y": 0.1}, {"s": "3x", "x": 7.3, "y": 0.2}, {"s": "3x", "x": 8.25, "y": 0.18}, {"s": "3x", "x": 9.25, "y": 0.27}, {"s": "3x", "x": 10.25, "y": 0.33}, {"s": "3x", "x": 11.3, "y": 0.42}, {"s": "3x", "x": 12.25, "y": 0.22}, {"s": "3x", "x": 13.25, "y": 0.05},
   {"s": "5X FAD", "x": 3.6, "y": 0.05}, {"s": "5X FAD", "x": 4.6, "y": 0.05}, {"s": "5X FAD", "x": 5.25, "y": 0.1}, {"s": "5X FAD", "x": 6.25, "y": 0.08}, {"s": "5X FAD", "x": 7.3, "y": 0.27}, {"s": "5X FAD", "x": 8.25, "y": 0.2}, {"s": "5X FAD", "x": 9.25, "y": 0.43}, {"s": "5X FAD", "x": 10.25, "y": 2.05}, {"s": "5X FAD", "x": 11.3, "y": 1.0}, {"s": "5X FAD", "x": 12.25, "y": 0.45}, {"s": "5X FAD", "x": 13.25, "y": 0.03},
   {"s": "APP/PSEN", "x": 3.6, "y": 0.01}, {"s": "APP/PSEN", "x": 4.6, "y": 0.01}, {"s": "APP/PSEN", "x": 5.25, "y": 0.1}, {"s": "APP/PSEN", "x": 6.25, "y": 0.08}, {"s": "APP/PSEN", "x": 7.3, "y": 0.24}, {"s": "APP/PSEN", "x": 8.25, "y": 0.23}, {"s": "APP/PSEN", "x": 9.25, "y": 0.62}, {"s": "APP/PSEN", "x": 10.25, "y": 1.88}, {"s": "APP/PSEN", "x": 11.3, "y": 1.02}, {"s": "APP/PSEN", "x": 12.25, "y": 0.27}, {"s": "APP/PSEN", "x": 13.25, "y": 0.02}
  ],
  "g_big": [{"x": 3.8, "t": "V"}, {"x": 4.87, "t": "↓"}, {"x": 11.86, "t": "↓"}, {"x": 12.5, "t": "V"}],
  "g_small": [{"x": 4.4, "t": "o"}, {"x": 13.1, "t": "c"}],
  "g_frac": [{"x": 5.43, "n": "1"}, {"x": 7.9, "n": "2"}, {"x": 8.88, "n": "3"}, {"x": 10.49, "n": "4"}, {"x": 11.96, "n": "5"}],
  "h_lines": [
   {"k": "fit", "x": -0.066, "y": -0.51}, {"k": "fit", "x": 0.93, "y": 3.88},
   {"k": "up", "x": -0.066, "y": -0.24}, {"k": "up", "x": 0.1, "y": 0.55}, {"k": "up", "x": 0.3, "y": 1.32}, {"k": "up", "x": 0.6, "y": 2.65}, {"k": "up", "x": 0.93, "y": 4.36},
   {"k": "lo", "x": -0.066, "y": -0.81}, {"k": "lo", "x": 0.1, "y": 0.1}, {"k": "lo", "x": 0.3, "y": 0.9}, {"k": "lo", "x": 0.6, "y": 2.15}, {"k": "lo", "x": 0.93, "y": 3.35}
  ],
  "h_pts": [
   {"s": "APP/PSEN1", "x": 0.061, "y": 0.76}, {"s": "APP/PSEN1", "x": 0.061, "y": 0.38}, {"s": "APP/PSEN1", "x": 0.061, "y": 0.25}, {"s": "APP/PSEN1", "x": 0.588, "y": 2.73}, {"s": "APP/PSEN1", "x": 0.588, "y": 2.67}, {"s": "APP/PSEN1", "x": 0.917, "y": 3.31},
   {"s": "WT", "x": 0, "y": -0.45}, {"s": "WT", "x": 0, "y": -0.6}, {"s": "WT", "x": 0, "y": -0.75}, {"s": "WT", "x": 0, "y": -0.85}, {"s": "WT", "x": 0, "y": -0.9}, {"s": "WT", "x": 0, "y": -1.35}, {"s": "WT", "x": 0, "y": -1.45},
   {"s": "CRND8", "x": -0.069, "y": 2.04}, {"s": "CRND8", "x": -0.067, "y": 0.92}, {"s": "CRND8", "x": 0.666, "y": 3.1}, {"s": "CRND8", "x": 0.666, "y": 2.98}, {"s": "CRND8", "x": 0.666, "y": 2.46}, {"s": "CRND8", "x": 0.758, "y": 4.34}, {"s": "CRND8", "x": 0.758, "y": 4.16}, {"s": "CRND8", "x": 0.758, "y": 3.31},
   {"s": "3X", "x": 0.087, "y": -0.02}, {"s": "3X", "x": 0.087, "y": -0.62}, {"s": "3X", "x": 0.115, "y": -1.08}, {"s": "3X", "x": 0.115, "y": -1.14}, {"s": "3X", "x": 0.194, "y": 0.5}, {"s": "3X", "x": 0.194, "y": 0.35}, {"s": "3X", "x": 0.194, "y": 0.05}, {"s": "3X", "x": 0.194, "y": -0.05}, {"s": "3X", "x": 0.194, "y": -0.63},
   {"s": "tg2576", "x": -0.02, "y": 0.22}, {"s": "tg2576", "x": -0.02, "y": -0.15}, {"s": "tg2576", "x": -0.02, "y": -0.2}, {"s": "tg2576", "x": 0.13, "y": 1.25}, {"s": "tg2576", "x": 0.13, "y": 1.09}, {"s": "tg2576", "x": 0.608, "y": 2.18}, {"s": "tg2576", "x": 0.608, "y": 1.67}, {"s": "tg2576", "x": 0.608, "y": 0.98},
   {"s": "5X FAD", "x": -0.078, "y": 0.7}, {"s": "5X FAD", "x": -0.078, "y": 0.61}, {"s": "5X FAD", "x": -0.078, "y": 0.46}, {"s": "5X FAD", "x": -0.078, "y": 0.34}, {"s": "5X FAD", "x": 0.942, "y": 4.76}, {"s": "5X FAD", "x": 0.942, "y": 4.3}, {"s": "5X FAD", "x": 0.942, "y": 4.19}
  ],
  "h_txt": [{"x": 0.821, "y": 6.08, "t": "r²=0.77;"}, {"x": 0.821, "y": 5.66, "t": "p<0.0001"}],
  "i_lines": [
   {"k": "fit", "x": 0, "y": -0.06}, {"k": "fit", "x": 0.513, "y": 3.6},
   {"k": "up", "x": 0, "y": 0.36}, {"k": "up", "x": 0.15, "y": 1.45}, {"k": "up", "x": 0.3, "y": 2.62}, {"k": "up", "x": 0.513, "y": 4.4},
   {"k": "lo", "x": 0, "y": -0.38}, {"k": "lo", "x": 0.15, "y": 0.6}, {"k": "lo", "x": 0.3, "y": 1.62}, {"k": "lo", "x": 0.513, "y": 2.83}
  ],
  "i_pts": [
   {"s": "APP/PSEN", "x": 0, "y": 0.76}, {"s": "APP/PSEN", "x": 0, "y": 0.38}, {"s": "APP/PSEN", "x": 0.269, "y": 2.73}, {"s": "APP/PSEN", "x": 0.269, "y": 2.68}, {"s": "APP/PSEN", "x": 0.37, "y": 3.29},
   {"s": "WT", "x": 0, "y": -0.45}, {"s": "WT", "x": 0, "y": -0.55}, {"s": "WT", "x": 0, "y": -0.8}, {"s": "WT", "x": 0, "y": -0.9}, {"s": "WT", "x": 0, "y": -1.35}, {"s": "WT", "x": 0, "y": -1.45},
   {"s": "CRND8", "x": 0, "y": 2.02}, {"s": "CRND8", "x": 0, "y": 0.95}, {"s": "CRND8", "x": 0.099, "y": 3.09}, {"s": "CRND8", "x": 0.099, "y": 2.97}, {"s": "CRND8", "x": 0.099, "y": 2.46}, {"s": "CRND8", "x": 0.35, "y": 4.34}, {"s": "CRND8", "x": 0.35, "y": 4.16}, {"s": "CRND8", "x": 0.35, "y": 3.31},
   {"s": "3X", "x": 0, "y": 0.0}, {"s": "3X", "x": 0, "y": -0.24}, {"s": "3X", "x": 0, "y": -0.6}, {"s": "3X", "x": 0.137, "y": -1.07}, {"s": "3X", "x": 0.137, "y": -1.12}, {"s": "3X", "x": 0.296, "y": 0.53}, {"s": "3X", "x": 0.296, "y": 0.36}, {"s": "3X", "x": 0.296, "y": 0.06}, {"s": "3X", "x": 0.296, "y": -0.06}, {"s": "3X", "x": 0.296, "y": -0.65},
   {"s": "tg2576", "x": 0, "y": 0.22}, {"s": "tg2576", "x": 0, "y": -0.08}, {"s": "tg2576", "x": 0, "y": -0.18}, {"s": "tg2576", "x": 0.172, "y": 1.27}, {"s": "tg2576", "x": 0.172, "y": 1.13}, {"s": "tg2576", "x": 0.364, "y": 2.2}, {"s": "tg2576", "x": 0.364, "y": 1.66}, {"s": "tg2576", "x": 0.364, "y": 0.99},
   {"s": "5X FAD", "x": 0, "y": 0.71}, {"s": "5X FAD", "x": 0, "y": 0.62}, {"s": "5X FAD", "x": 0, "y": 0.48}, {"s": "5X FAD", "x": 0, "y": 0.38}, {"s": "5X FAD", "x": 0.51, "y": 4.76}, {"s": "5X FAD", "x": 0.51, "y": 4.28}, {"s": "5X FAD", "x": 0.51, "y": 4.19}
  ],
  "i_txt": [{"x": 0.471, "y": 5.99, "t": "r²=0.50;"}, {"x": 0.471, "y": 5.6, "t": "p<0.0001"}]
 }
}
